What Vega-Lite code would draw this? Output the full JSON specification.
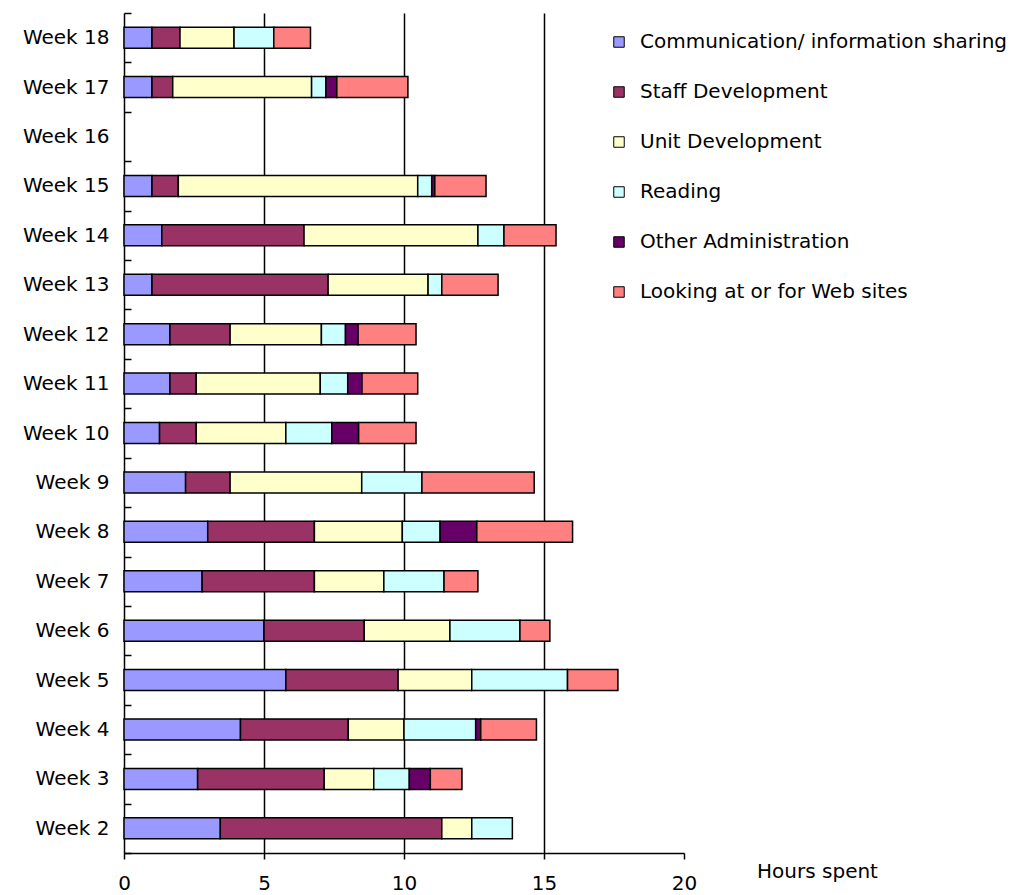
{
  "$schema": "https://vega.github.io/schema/vega-lite/v6.json",
  "width": 560,
  "height": 840,
  "autosize": {"type": "none"},
  "padding": {"left": 124, "top": 13, "right": 345, "bottom": 42},
  "background": "white",
  "config": {
    "font": "DejaVu Sans",
    "view": {"stroke": null}
  },
  "data": {
    "values": [
      {"week": "Week 18", "k": 1, "activity": "Communication/ information sharing", "hours": 1.0},
      {"week": "Week 18", "k": 2, "activity": "Staff Development", "hours": 1.0},
      {"week": "Week 18", "k": 3, "activity": "Unit Development", "hours": 1.93},
      {"week": "Week 18", "k": 4, "activity": "Reading", "hours": 1.42},
      {"week": "Week 18", "k": 6, "activity": "Looking at or for Web sites", "hours": 1.31},
      {"week": "Week 17", "k": 1, "activity": "Communication/ information sharing", "hours": 1.0},
      {"week": "Week 17", "k": 2, "activity": "Staff Development", "hours": 0.74},
      {"week": "Week 17", "k": 3, "activity": "Unit Development", "hours": 4.96},
      {"week": "Week 17", "k": 4, "activity": "Reading", "hours": 0.51},
      {"week": "Week 17", "k": 5, "activity": "Other Administration", "hours": 0.39},
      {"week": "Week 17", "k": 6, "activity": "Looking at or for Web sites", "hours": 2.54},
      {"week": "Week 15", "k": 1, "activity": "Communication/ information sharing", "hours": 1.0},
      {"week": "Week 15", "k": 2, "activity": "Staff Development", "hours": 0.94},
      {"week": "Week 15", "k": 3, "activity": "Unit Development", "hours": 8.55},
      {"week": "Week 15", "k": 4, "activity": "Reading", "hours": 0.5},
      {"week": "Week 15", "k": 5, "activity": "Other Administration", "hours": 0.11},
      {"week": "Week 15", "k": 6, "activity": "Looking at or for Web sites", "hours": 1.83},
      {"week": "Week 14", "k": 1, "activity": "Communication/ information sharing", "hours": 1.35},
      {"week": "Week 14", "k": 2, "activity": "Staff Development", "hours": 5.08},
      {"week": "Week 14", "k": 3, "activity": "Unit Development", "hours": 6.21},
      {"week": "Week 14", "k": 4, "activity": "Reading", "hours": 0.93},
      {"week": "Week 14", "k": 6, "activity": "Looking at or for Web sites", "hours": 1.86},
      {"week": "Week 13", "k": 1, "activity": "Communication/ information sharing", "hours": 1.0},
      {"week": "Week 13", "k": 2, "activity": "Staff Development", "hours": 6.29},
      {"week": "Week 13", "k": 3, "activity": "Unit Development", "hours": 3.57},
      {"week": "Week 13", "k": 4, "activity": "Reading", "hours": 0.49},
      {"week": "Week 13", "k": 6, "activity": "Looking at or for Web sites", "hours": 2.01},
      {"week": "Week 12", "k": 1, "activity": "Communication/ information sharing", "hours": 1.64},
      {"week": "Week 12", "k": 2, "activity": "Staff Development", "hours": 2.15},
      {"week": "Week 12", "k": 3, "activity": "Unit Development", "hours": 3.26},
      {"week": "Week 12", "k": 4, "activity": "Reading", "hours": 0.86},
      {"week": "Week 12", "k": 5, "activity": "Other Administration", "hours": 0.45},
      {"week": "Week 12", "k": 6, "activity": "Looking at or for Web sites", "hours": 2.07},
      {"week": "Week 11", "k": 1, "activity": "Communication/ information sharing", "hours": 1.64},
      {"week": "Week 11", "k": 2, "activity": "Staff Development", "hours": 0.94},
      {"week": "Week 11", "k": 3, "activity": "Unit Development", "hours": 4.43},
      {"week": "Week 11", "k": 4, "activity": "Reading", "hours": 0.98},
      {"week": "Week 11", "k": 5, "activity": "Other Administration", "hours": 0.51},
      {"week": "Week 11", "k": 6, "activity": "Looking at or for Web sites", "hours": 1.99},
      {"week": "Week 10", "k": 1, "activity": "Communication/ information sharing", "hours": 1.27},
      {"week": "Week 10", "k": 2, "activity": "Staff Development", "hours": 1.31},
      {"week": "Week 10", "k": 3, "activity": "Unit Development", "hours": 3.2},
      {"week": "Week 10", "k": 4, "activity": "Reading", "hours": 1.64},
      {"week": "Week 10", "k": 5, "activity": "Other Administration", "hours": 0.96},
      {"week": "Week 10", "k": 6, "activity": "Looking at or for Web sites", "hours": 2.05},
      {"week": "Week 9", "k": 1, "activity": "Communication/ information sharing", "hours": 2.2},
      {"week": "Week 9", "k": 2, "activity": "Staff Development", "hours": 1.59},
      {"week": "Week 9", "k": 3, "activity": "Unit Development", "hours": 4.7},
      {"week": "Week 9", "k": 4, "activity": "Reading", "hours": 2.15},
      {"week": "Week 9", "k": 6, "activity": "Looking at or for Web sites", "hours": 4.01},
      {"week": "Week 8", "k": 1, "activity": "Communication/ information sharing", "hours": 2.99},
      {"week": "Week 8", "k": 2, "activity": "Staff Development", "hours": 3.81},
      {"week": "Week 8", "k": 3, "activity": "Unit Development", "hours": 3.14},
      {"week": "Week 8", "k": 4, "activity": "Reading", "hours": 1.35},
      {"week": "Week 8", "k": 5, "activity": "Other Administration", "hours": 1.31},
      {"week": "Week 8", "k": 6, "activity": "Looking at or for Web sites", "hours": 3.42},
      {"week": "Week 7", "k": 1, "activity": "Communication/ information sharing", "hours": 2.79},
      {"week": "Week 7", "k": 2, "activity": "Staff Development", "hours": 4.01},
      {"week": "Week 7", "k": 3, "activity": "Unit Development", "hours": 2.48},
      {"week": "Week 7", "k": 4, "activity": "Reading", "hours": 2.15},
      {"week": "Week 7", "k": 6, "activity": "Looking at or for Web sites", "hours": 1.21},
      {"week": "Week 6", "k": 1, "activity": "Communication/ information sharing", "hours": 5.0},
      {"week": "Week 6", "k": 2, "activity": "Staff Development", "hours": 3.58},
      {"week": "Week 6", "k": 3, "activity": "Unit Development", "hours": 3.06},
      {"week": "Week 6", "k": 4, "activity": "Reading", "hours": 2.5},
      {"week": "Week 6", "k": 6, "activity": "Looking at or for Web sites", "hours": 1.07},
      {"week": "Week 5", "k": 1, "activity": "Communication/ information sharing", "hours": 5.78},
      {"week": "Week 5", "k": 2, "activity": "Staff Development", "hours": 4.01},
      {"week": "Week 5", "k": 3, "activity": "Unit Development", "hours": 2.63},
      {"week": "Week 5", "k": 4, "activity": "Reading", "hours": 3.42},
      {"week": "Week 5", "k": 6, "activity": "Looking at or for Web sites", "hours": 1.8},
      {"week": "Week 4", "k": 1, "activity": "Communication/ information sharing", "hours": 4.16},
      {"week": "Week 4", "k": 2, "activity": "Staff Development", "hours": 3.85},
      {"week": "Week 4", "k": 3, "activity": "Unit Development", "hours": 1.99},
      {"week": "Week 4", "k": 4, "activity": "Reading", "hours": 2.56},
      {"week": "Week 4", "k": 5, "activity": "Other Administration", "hours": 0.18},
      {"week": "Week 4", "k": 6, "activity": "Looking at or for Web sites", "hours": 1.99},
      {"week": "Week 3", "k": 1, "activity": "Communication/ information sharing", "hours": 2.63},
      {"week": "Week 3", "k": 2, "activity": "Staff Development", "hours": 4.52},
      {"week": "Week 3", "k": 3, "activity": "Unit Development", "hours": 1.77},
      {"week": "Week 3", "k": 4, "activity": "Reading", "hours": 1.27},
      {"week": "Week 3", "k": 5, "activity": "Other Administration", "hours": 0.75},
      {"week": "Week 3", "k": 6, "activity": "Looking at or for Web sites", "hours": 1.13},
      {"week": "Week 2", "k": 1, "activity": "Communication/ information sharing", "hours": 3.44},
      {"week": "Week 2", "k": 2, "activity": "Staff Development", "hours": 7.91},
      {"week": "Week 2", "k": 3, "activity": "Unit Development", "hours": 1.07},
      {"week": "Week 2", "k": 4, "activity": "Reading", "hours": 1.45}
    ]
  },
  "mark": {"type": "bar", "size": 21, "stroke": "black", "strokeWidth": 1.5},
  "encoding": {
    "y": {
      "field": "week",
      "type": "nominal",
      "scale": {
        "domain": ["Week 18", "Week 17", "Week 16", "Week 15", "Week 14", "Week 13", "Week 12", "Week 11", "Week 10", "Week 9", "Week 8", "Week 7", "Week 6", "Week 5", "Week 4", "Week 3", "Week 2"],
        "paddingInner": 0,
        "paddingOuter": 0
      },
      "axis": {
        "title": null,
        "tickBand": "extent",
        "tickSize": -7,
        "tickColor": "black",
        "tickWidth": 1.5,
        "domainColor": "black",
        "domainWidth": 1.5,
        "labelFontSize": 20,
        "labelColor": "black",
        "labelPadding": 22,
        "labelFont": "DejaVu Sans"
      }
    },
    "x": {
      "field": "hours",
      "type": "quantitative",
      "stack": "zero",
      "scale": {"domain": [0, 20], "nice": false},
      "axis": {
        "values": [0, 5, 10, 15, 20],
        "grid": true,
        "gridColor": "black",
        "gridWidth": 1.5,
        "gridOpacity": {"condition": {"test": "datum.value === 20 || datum.value === 0", "value": 0}, "value": 1},
        "tickSize": 6,
        "tickColor": "black",
        "tickWidth": 1.5,
        "domainColor": "black",
        "domainWidth": 1.5,
        "labelFontSize": 20,
        "labelColor": "black",
        "labelPadding": 14,
        "labelFlush": false,
        "labelFont": "DejaVu Sans",
        "title": "Hours spent",
        "titleFontSize": 20,
        "titleFontWeight": "normal",
        "titleColor": "black",
        "titleFont": "DejaVu Sans",
        "titleX": 693,
        "titleY": 18,
        "titleAlign": "center",
        "titleBaseline": "middle"
      }
    },
    "color": {
      "field": "activity",
      "type": "nominal",
      "scale": {
        "domain": ["Communication/ information sharing", "Staff Development", "Unit Development", "Reading", "Other Administration", "Looking at or for Web sites"],
        "range": ["#9999FF", "#993366", "#FFFFCC", "#CCFFFF", "#660066", "#FF8080"]
      },
      "legend": {
        "title": null,
        "orient": "none",
        "legendX": 485,
        "legendY": 19,
        "symbolType": "square",
        "symbolSize": 110,
        "symbolStrokeColor": "black",
        "symbolStrokeWidth": 1,
        "symbolOpacity": 1,
        "labelFontSize": 20,
        "labelColor": "black",
        "labelFont": "DejaVu Sans",
        "labelOffset": 11,
        "labelLimit": 500,
        "rowPadding": 30
      }
    },
    "order": {"field": "k", "type": "quantitative", "sort": "ascending"}
  }
}
